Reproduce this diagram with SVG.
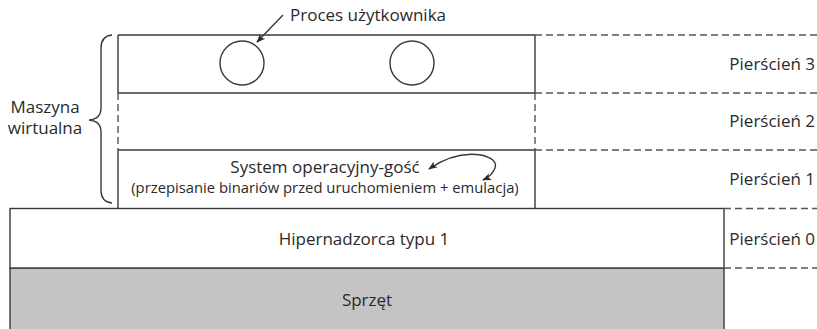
<svg xmlns="http://www.w3.org/2000/svg" width="817" height="329" viewBox="0 0 817 329">
  <style>
    .solid { stroke: #3a3a3a; stroke-width: 1.4; fill: none; }
    .dash { stroke: #555; stroke-width: 1.4; fill: none; stroke-dasharray: 7 4; }
    .lbl { font-family: "Open Sans", "Noto Sans", sans-serif; font-size: 17px; fill: #2a2a2a; }
    .small { font-size: 14.8px; }
    .mid { text-anchor: middle; }
    .end { text-anchor: end; }
  </style>
  <defs>
    <marker id="ah" viewBox="0 0 10 10" refX="9" refY="5" markerWidth="9" markerHeight="9" markerUnits="userSpaceOnUse" orient="auto-start-reverse">
      <path d="M0,1 L10,5 L0,9 L2.5,5 Z" fill="#2a2a2a"/>
    </marker>
  </defs>

  <rect width="817" height="329" fill="#ffffff"/>

  <!-- hardware layer -->
  <g id="hardware">
    <rect x="10" y="268" width="714" height="62" fill="#c4c4c4" stroke="#3a3a3a" stroke-width="1.4"/>
    <text class="lbl mid" x="367" y="306">Sprzęt</text>
  </g>

  <!-- type 1 hypervisor -->
  <g id="hypervisor">
    <rect x="10" y="208.5" width="714" height="59.5" fill="#ffffff" stroke="#3a3a3a" stroke-width="1.4"/>
    <text class="lbl mid" x="364" y="245">Hipernadzorca typu 1</text>
  </g>

  <!-- virtual machine: three ring rows -->
  <g id="vm-ring3">
    <path class="solid" d="M118,35 H535 M118,35 V93 M535,35 V93 M118,93 H535"/>
    <circle class="solid" cx="242" cy="63" r="22"/>
    <circle class="solid" cx="412" cy="63" r="22"/>
  </g>
  <g id="vm-ring2">
    <path class="dash" d="M118,93 V150 M535,93 V150"/>
  </g>
  <g id="vm-ring1">
    <path class="solid" d="M118,150 H535 M118,150 V208 M535,150 V208"/>
    <text class="lbl mid" x="325" y="173">System operacyjny-gość</text>
    <text class="lbl small mid" x="325" y="193">(przepisanie binariów przed uruchomieniem + emulacja)</text>
  </g>

  <!-- virtual machine brace and label -->
  <g id="vm-label">
    <path class="solid" d="M112,35 Q101,36 101,48 V108 Q101,119 89,120 Q101,121 101,132 V190 Q101,202 112,203"/>
    <text class="lbl mid" x="45" y="113">Maszyna</text>
    <text class="lbl mid" x="45" y="134">wirtualna</text>
  </g>

  <!-- process label -->
  <g id="process-label">
    <text class="lbl" x="290" y="21">Proces użytkownika</text>
  </g>

  <!-- ring labels -->
  <g id="rings">
    <text class="lbl end" x="815" y="70">Pierścień 3</text>
    <text class="lbl end" x="815" y="127">Pierścień 2</text>
    <text class="lbl end" x="815" y="185">Pierścień 1</text>
    <text class="lbl end" x="815" y="245">Pierścień 0</text>
  </g>

  <!-- connectors -->
  <g id="connectors">
    <path class="dash" d="M535,35 H817 M535,93 H817 M535,150 H817 M724,208.5 H817 M724,268 H817"/>
    <line class="solid" x1="283" y1="15" x2="257" y2="42" marker-end="url(#ah)"/>
    <path class="solid" d="M429,169 Q455,151 481,155 Q498,159 495,168 Q492,176 483,180" marker-start="url(#ah)" marker-end="url(#ah)"/>
  </g>
</svg>
